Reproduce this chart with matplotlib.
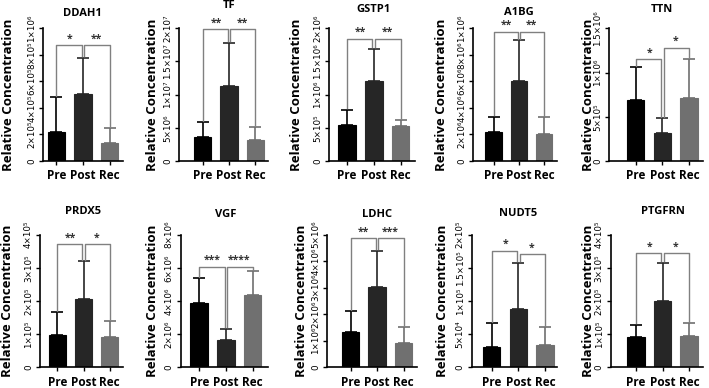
import numpy as np
import matplotlib
matplotlib.use("Agg")
import matplotlib.pyplot as plt

plt.rcParams["font.family"] = ["Open Sans", "DejaVu Sans"]

groups = ["Pre", "Post", "Rec"]
proteins = ["DDAH1", "TF", "GSTP1", "A1BG", "TTN",
            "PRDX5", "VGF", "LDHC", "NUDT5", "PTGFRN"]

# bar heights (means) and upper error (mean + SD)
means = [
    [0.221e6, 0.507e6, 0.138e6],
    [3.59e6, 11.26e6, 3.13e6],
    [0.545e6, 1.202e6, 0.52e6],
    [2.22e6, 6.01e6, 2.0e6],
    [0.69e6, 0.313e6, 0.716e6],
    [0.985e5, 2.07e5, 0.905e5],
    [3.86e6, 1.67e6, 4.38e6],
    [1.32e6, 3.04e6, 0.917e6],
    [3.0e4, 8.74e4, 3.42e4],
    [0.905e5, 1.99e5, 0.945e5],
]
err_tops = [
    [0.48e6, 0.779e6, 0.251e6],
    [5.86e6, 17.83e6, 5.15e6],
    [0.773e6, 1.692e6, 0.621e6],
    [3.31e6, 9.09e6, 3.28e6],
    [1.059e6, 0.482e6, 1.157e6],
    [1.66e5, 3.2e5, 1.41e5],
    [5.37e6, 2.31e6, 5.79e6],
    [2.11e6, 4.40e6, 1.53e6],
    [6.63e4, 1.58e5, 6.03e4],
    [1.28e5, 3.15e5, 1.33e5],
]

# y ticks and their labels
yticks = [
    [0, 2e5, 4e5, 6e5, 8e5, 1e6],
    [0, 5e6, 1e7, 1.5e7, 2e7],
    [0, 5e5, 1e6, 1.5e6, 2e6],
    [0, 2e6, 4e6, 6e6, 8e6, 1e7],
    [0, 5e5, 1e6, 1.5e6],
    [0, 1e5, 2e5, 3e5, 4e5],
    [0, 2e6, 4e6, 6e6, 8e6],
    [0, 1e6, 2e6, 3e6, 4e6, 5e6],
    [0, 5e4, 1e5, 1.5e5, 2e5],
    [0, 1e5, 2e5, 3e5, 4e5],
]
ytick_labels = [
    ["0", "2×10⁵", "4×10⁵", "6×10⁵", "8×10⁵", "1×10⁶"],
    ["0", "5×10⁶", "1×10⁷", "1.5×10⁷", "2×10⁷"],
    ["0", "5×10⁵", "1×10⁶", "1.5×10⁶", "2×10⁶"],
    ["0", "2×10⁶", "4×10⁶", "6×10⁶", "8×10⁶", "1×10⁶"],
    ["0", "5×10⁵", "1×10⁶", "1.5×10⁶"],
    ["0", "1×10⁵", "2×10⁵", "3×10⁵", "4×10⁵"],
    ["0", "2×10⁶", "4×10⁶", "6×10⁶", "8×10⁶"],
    ["0", "1×10⁶", "2×10⁶", "3×10⁶", "4×10⁶", "5×10⁶"],
    ["0", "5×10⁴", "1×10⁵", "1.5×10⁵", "2×10⁵"],
    ["0", "1×10⁵", "2×10⁵", "3×10⁵", "4×10⁵"],
]

# significance brackets: (i, j, height, stars)
brackets = [
    [(0, 1, 0.874e6, "*"), (1, 2, 0.874e6, "**")],
    [(0, 1, 19.9e6, "**"), (1, 2, 19.9e6, "**")],
    [(0, 1, 1.843e6, "**"), (1, 2, 1.843e6, "**")],
    [(0, 1, 9.75e6, "**"), (1, 2, 9.75e6, "**")],
    [(0, 1, 1.153e6, "*"), (1, 2, 1.281e6, "*")],
    [(0, 1, 3.72e5, "**"), (1, 2, 3.72e5, "*")],
    [(0, 1, 6.07e6, "***"), (1, 2, 6.07e6, "****")],
    [(0, 1, 4.86e6, "**"), (1, 2, 4.86e6, "***")],
    [(0, 1, 1.76e5, "*"), (1, 2, 1.71e5, "*")],
    [(0, 1, 3.45e5, "*"), (1, 2, 3.45e5, "*")],
]

bar_colors = ["#000000", "#262626", "#707070"]

# layout in pixels: spine x, Pre centre, Rec centre, axis right end, label x, title y
W, H = 709, 388
layout = [
    (43.3, 56.3, 109.5, 123.0, 8.5, 14),
    (179.3, 202.7, 255.3, 268.3, 152.7, 6),
    (329.0, 346.8, 400.5, 415.0, 297.0, 10),
    (473.3, 493.7, 544.0, 557.0, 441.7, 12.5),
    (609.3, 635.7, 689.0, 703.0, 588.0, 10),
    (40.0, 57.2, 109.8, 123.3, 7.5, 212),
    (180.7, 199.2, 252.5, 268.0, 153.0, 214),
    (327.3, 350.5, 403.7, 416.7, 301.7, 214),
    (471.7, 491.7, 545.0, 557.0, 442.7, 213),
    (610.7, 636.0, 689.0, 702.7, 588.0, 212),
]
rows_y = [(28.3, 161.0), (40.7 + 194, 173.3 + 194)]

fig = plt.figure(figsize=(W / 100, H / 100), dpi=100)

for k, name in enumerate(proteins):
    spine, pre, rec, right, labx, ty = layout[k]
    top, bot = rows_y[k // 5]
    ax = fig.add_axes([spine / W, 1 - bot / H, (right - spine) / W, (bot - top) / H])
    step = (rec - pre) / 2
    ax.set_xlim((spine - pre) / step, (right - pre) / step)
    ymax = yticks[k][-1]
    ax.set_ylim(0, ymax)

    x = np.arange(3)
    m = np.array(means[k])
    e = np.array(err_tops[k]) - m
    for i in range(3):
        ax.bar(x[i], m[i], width=0.66, color=bar_colors[i], edgecolor=bar_colors[i],
               linewidth=0.8, zorder=2)
        ax.errorbar(x[i], m[i], yerr=[[0], [e[i]]], fmt="none", ecolor=bar_colors[i],
                    elinewidth=1.2, capsize=4, capthick=1.2, zorder=3, clip_on=False)

    for (i, j, hgt, stars) in brackets[k]:
        xi = i + (0.05 if i == 1 else 0)
        xj = j - (0.05 if j == 1 else 0)
        li = err_tops[k][i] + 0.012 * ymax
        lj = err_tops[k][j] + 0.012 * ymax
        ax.plot([xi, xi, xj, xj], [li, hgt, hgt, lj], color="#808080", lw=1.0,
                clip_on=False, zorder=4)
        ax.text((i + j) / 2, hgt + 0.005 * ymax, stars, ha="center", va="bottom",
                fontsize=7.5, color="#333333", fontweight="bold", clip_on=False)

    ax.set_yticks(yticks[k])
    ax.set_yticklabels(ytick_labels[k], rotation=90, va="center", fontsize=6.3,
                       family="DejaVu Sans")
    ax.set_xticks(x)
    ax.set_xticklabels(groups, fontsize=8.5, fontweight="bold")
    ax.tick_params(axis="both", width=1.0, length=3, pad=2, color="black")
    ax.tick_params(axis="x", pad=3)
    for s in ["top", "right"]:
        ax.spines[s].set_visible(False)
    for s in ["left", "bottom"]:
        ax.spines[s].set_linewidth(1.2)

    tx = (pre + rec) / 2
    fig.text(tx / W, 1 - ty / H, name, ha="center", va="center",
             fontsize=8, fontweight="bold")
    fig.text(labx / W, 1 - (top + bot) / 2 / H, "Relative Concentration", rotation=90,
             ha="center", va="center", fontsize=9.5, fontweight="bold")

fig.savefig("out.png", dpi=100)
